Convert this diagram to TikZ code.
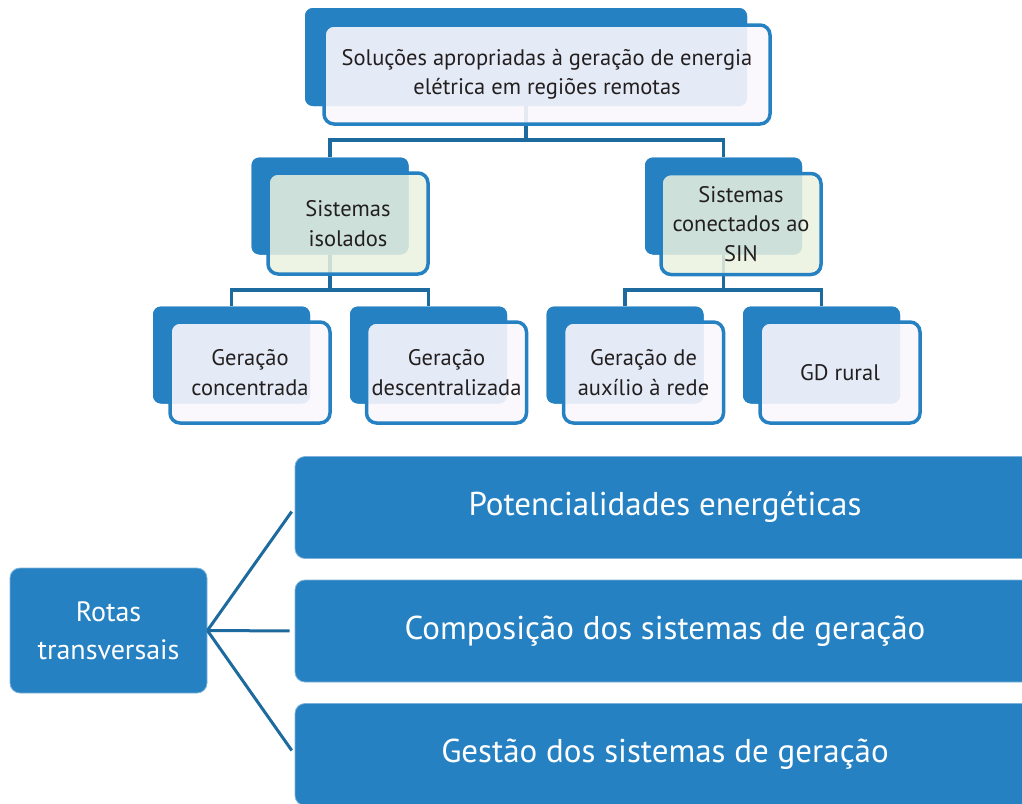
\documentclass[tikz,border=0pt]{standalone}
\usepackage{fontspec}
\setmainfont{PT Sans}
\usetikzlibrary{calc}
\definecolor{boxblue}{HTML}{2581C2}
\definecolor{linkblue}{HTML}{1D6A9E}
\definecolor{txtgray}{HTML}{231F20}
\definecolor{palegreen}{HTML}{EBF2DF}
\definecolor{lavwhite}{HTML}{FAF7FC}
\definecolor{edgeblue}{HTML}{7FB2DA}
\tikzset{
  backbox/.style={fill=boxblue, rounded corners=8pt, inner sep=0pt, minimum width=157pt, minimum height=97pt},
  frontbox/.style={draw=boxblue, line width=3.5pt, fill=lavwhite, fill opacity=0.9, text opacity=1, rounded corners=10pt, inner sep=0pt, minimum width=160pt, minimum height=101pt, align=center, text=txtgray, font=\fontsize{22.5}{29.5}\selectfont},
  greenbox/.style={frontbox, fill=palegreen, fill opacity=0.85},
  link/.style={draw=linkblue, line width=3.5pt},
  bluebox/.style={fill=boxblue, draw=edgeblue, line width=0.8pt, rounded corners=10pt, inner sep=0pt, text=white, align=center},
  bigtext/.style={font=\fontsize{33}{38}\selectfont},
  spoke/.style={draw=linkblue, line width=3pt, shorten >=5pt}
}
\begin{document}
\begin{tikzpicture}[x=1pt,y=-1pt]
\useasboundingbox (0,0) rectangle (1022,803);
\clip (0,0) rectangle (1022,803);
% back boxes
\node[backbox, minimum width=442pt, minimum height=98pt] (top) at (526,57) {};
\node[backbox] (iso) at (330,206) {};
\node[backbox] (con) at (723.5,206) {};
\node[backbox] (gc) at (231.5,355) {};
\node[backbox] (gdesc) at (428.5,355) {};
\node[backbox] (gaux) at (625,355) {};
\node[backbox] (gdr) at (821.5,355) {};
% connectors
\coordinate (bar1) at (0,140);
\coordinate (bar2) at (0,290);
\draw[link] (top.south) -- (top.south |- bar1) -| (iso.north);
\draw[link] (top.south |- bar1) -| (con.north);
\draw[link] (iso.south) -- (iso.south |- bar2) -| (gc.north);
\draw[link] (iso.south |- bar2) -| (gdesc.north);
\draw[link] (con.south) -- (con.south |- bar2) -| (gaux.north);
\draw[link] (con.south |- bar2) -| (gdr.north);
% redraw back boxes over connectors
\node[backbox, minimum width=442pt, minimum height=98pt] at (526,57) {};
\node[backbox] at (330,206) {};
\node[backbox] at (723.5,206) {};
\node[backbox] at (231.5,355) {};
\node[backbox] at (428.5,355) {};
\node[backbox] at (625,355) {};
\node[backbox] at (821.5,355) {};
% front boxes
\node[frontbox, minimum width=446pt, minimum height=99pt] (topf) at (547,74.5) {Soluções apropriadas à geração de energia\\elétrica em regiões remotas};
\node[greenbox] (isof) at (348,223.5) {Sistemas\\isolados};
\node[greenbox] (conf) at (741,224) {Sistemas\\conectados ao\\SIN};
\node[frontbox] (gcf) at (250,372.5) {Geração\\concentrada};
\node[frontbox] (gdescf) at (446.5,372.5) {Geração\\descentralizada};
\node[frontbox] (gauxf) at (643.5,372.5) {Geração de\\auxílio à rede};
\node[frontbox] (gdrf) at (840,372.5) {GD rural};
% bottom part
\node[bluebox, minimum width=197pt, minimum height=125pt, font=\fontsize{28}{38}\selectfont] (rotas) at (108.5,630.5) {Rotas\\transversais};
\node[bluebox, bigtext, minimum width=740pt, minimum height=102pt] (pot) at (665,507.5) {Potencialidades energéticas};
\node[bluebox, bigtext, minimum width=740pt, minimum height=102pt] (comp) at (665,631) {Composição dos sistemas de geração};
\node[bluebox, bigtext, minimum width=740pt, minimum height=102pt] (gest) at (665,754.5) {Gestão dos sistemas de geração};
\draw[spoke] (rotas.east) -- (pot.west);
\draw[spoke] (rotas.east) -- (comp.west);
\draw[spoke] (rotas.east) -- (gest.west);
\end{tikzpicture}
\end{document}
